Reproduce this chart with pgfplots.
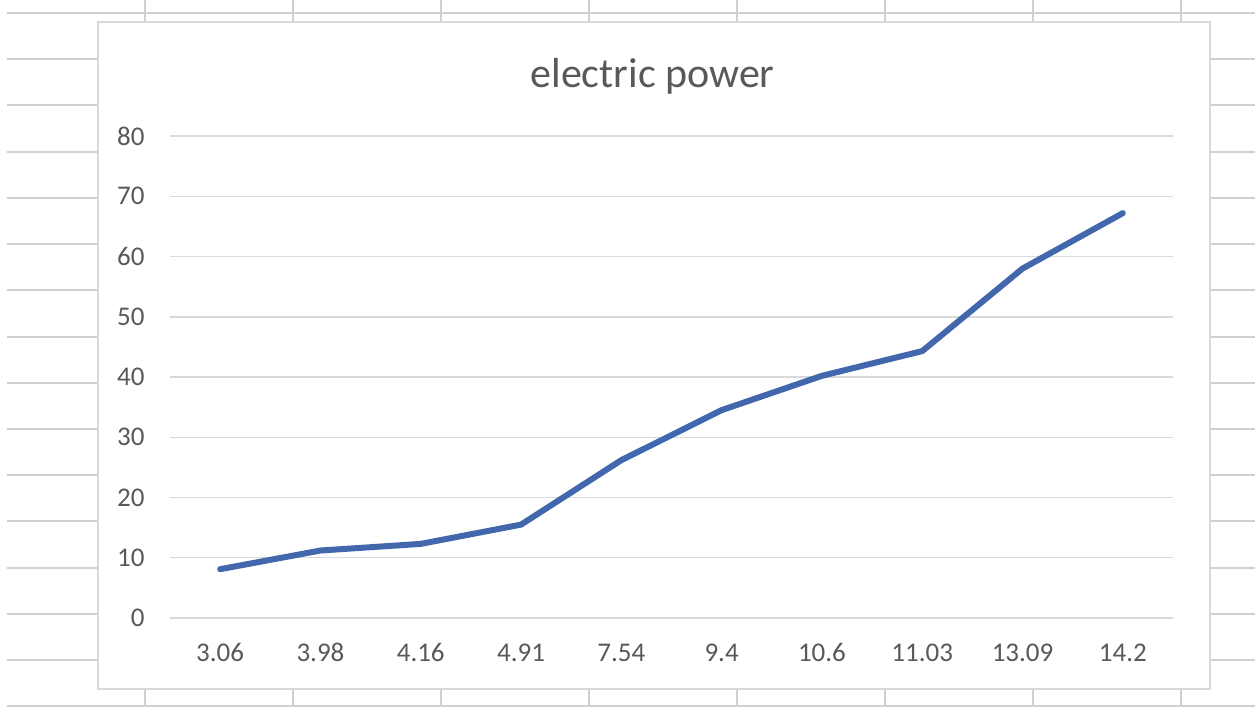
\documentclass[border=0pt]{standalone}
\usepackage{fontspec}
\setmainfont{Carlito}
\usepackage{pgfplots}
\pgfplotsset{compat=1.18}
\usepackage{pgfplotstable}
\definecolor{sheetgrid}{HTML}{D0D0D0}
\definecolor{chartborder}{HTML}{D9D9D9}
\definecolor{gridgray}{HTML}{D9D9D9}
\definecolor{labelgray}{HTML}{595959}
\definecolor{lineblue}{HTML}{4267AC}
\pgfplotstableread{
idx power
0 8.1
1 11.2
2 12.3
3 15.5
4 26.2
5 34.5
6 40.2
7 44.3
8 58.0
9 67.2
}\powerdata
\begin{document}
\begin{tikzpicture}
\useasboundingbox (0,0) rectangle (627.5pt,353.5pt);
\begin{scope}[x=0.5pt,y=-0.5pt,yshift=353.5pt]
  \clip (0,0) rectangle (1255,707);
  \fill[white] (0,0) rectangle (1255,707);
  % spreadsheet cells
  \foreach \yy in {13,59,105,152,198,244,290,337,383,429,475,521,568,614,660,706}
    \draw[sheetgrid, line width=0.75pt] (7,\yy) -- (1255,\yy);
  \foreach \xx in {145,293,441,589,737,885,1033,1181}
    \draw[sheetgrid, line width=0.75pt] (\xx,0) -- (\xx,707);
  % chart area
  \filldraw[fill=white, draw=chartborder, line width=0.75pt] (98,22) rectangle (1210,689);
\end{scope}
\node[anchor=base, text=labelgray, font=\fontsize{21}{25}\selectfont, inner sep=0pt] at (326.25pt,309.5pt) {electric power};
\begin{axis}[
  at={(85pt,44.5pt)}, anchor=south west,
  scale only axis,
  width=501.5pt, height=241pt,
  xmin=-0.5, xmax=9.5,
  ymin=0, ymax=80,
  xtick={0,...,9},
  xticklabels={3.06,3.98,4.16,4.91,7.54,9.4,10.6,11.03,13.09,14.2},
  ytick={0,10,...,80},
  ymajorgrids,
  grid style={gridgray, line width=0.75pt},
  axis line style={draw=none},
  major tick length=0pt,
  tick label style={text=labelgray, font=\fontsize{13.5}{16}\selectfont, inner sep=0pt},
  xticklabel style={anchor=center, yshift=-17.35pt},
  yticklabel style={anchor=east, xshift=-12.5pt},
  /pgf/number format/assume math mode=true,
  clip=false,
]
\addplot[lineblue, line width=3pt, line join=round, line cap=round, mark=none] table[x=idx, y=power] {\powerdata};
\end{axis}
\end{tikzpicture}
\end{document}
